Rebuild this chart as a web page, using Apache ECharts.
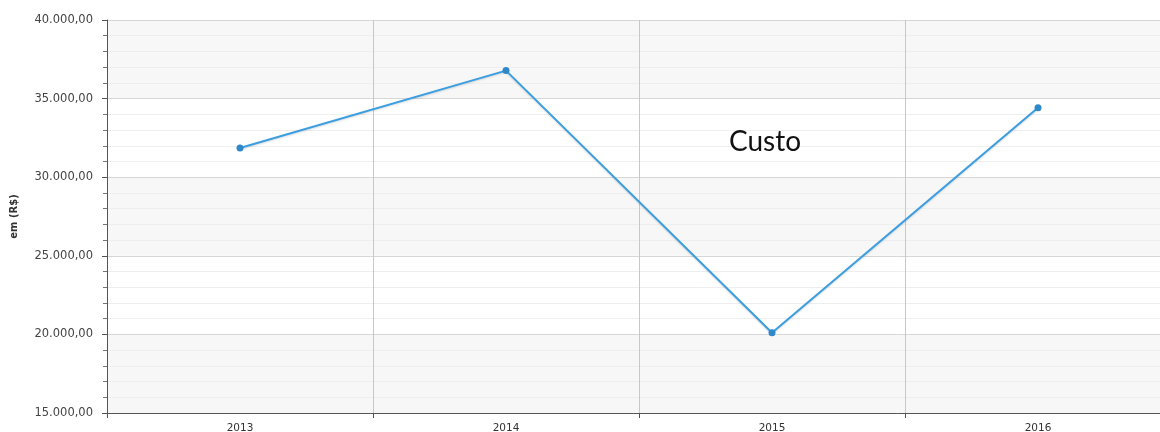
<!DOCTYPE html>
<html><head><meta charset="utf-8">
<script src="https://cdn.jsdelivr.net/npm/echarts@6/dist/echarts.min.js"></script>
<style>html,body{margin:0;padding:0;background:#fff}#c{width:1160px;height:432px}</style>
</head><body><div id="c"></div>
<script>
const categories = ['2013', '2014', '2015', '2016'];
const custo = [31860, 36780, 20100, 34420];
const chartTitle = 'Custo';
const yAxisName = 'em (R$)';

const fmt = v => {
  const s = Math.round(v).toString().replace(/\B(?=(\d{3})+(?!\d))/g, '.');
  return s + ',00';
};

const chart = echarts.init(document.getElementById('c'), null, {renderer: 'canvas'});
chart.setOption({
  animation: false,
  backgroundColor: '#fff',
  title: {
    text: chartTitle, left: 724, top: 123,
    textStyle: {fontFamily: 'Lato, "Open Sans", sans-serif', fontWeight: 'normal', fontSize: 28, color: '#111'}
  },
  grid: {left: 107, right: -11, top: 20, bottom: 19, containLabel: false, outerBoundsMode: 'none'},
  xAxis: {
    type: 'category', data: categories, boundaryGap: true,
    axisLine: {lineStyle: {color: '#555', width: 1}},
    axisTick: {show: true, alignWithLabel: false, length: 5, lineStyle: {color: '#555'}},
    axisLabel: {fontFamily: '"DejaVu Sans", Verdana, sans-serif', fontSize: 10.5, color: '#333', margin: 10},
    splitLine: {show: true, lineStyle: {color: '#c8c8c8', width: 1}}
  },
  yAxis: {
    type: 'value', min: 15000, max: 40000, interval: 5000,
    name: yAxisName, nameLocation: 'middle', nameGap: 88, nameRotate: 90,
    nameTextStyle: {fontFamily: '"DejaVu Sans", Verdana, sans-serif', fontSize: 10, fontWeight: 'bold', color: '#333'},
    axisLine: {show: true, lineStyle: {color: '#555', width: 1}},
    axisTick: {show: true, length: 5, lineStyle: {color: '#555'}},
    minorTick: {show: true, splitNumber: 5, length: 4, lineStyle: {color: '#777'}},
    axisLabel: {formatter: fmt, fontFamily: '"DejaVu Sans", Verdana, sans-serif', fontSize: 11.5, color: '#444', margin: 14},
    splitLine: {show: true, lineStyle: {color: '#d6d6d6', width: 1}},
    minorSplitLine: {show: true, lineStyle: {color: '#eeeeee', width: 1}},
    splitArea: {show: true, areaStyle: {color: ['#f7f7f7', '#ffffff']}}
  },
  series: [{
    type: 'line', data: custo,
    symbol: 'circle', symbolSize: 7,
    itemStyle: {color: '#2f88c8'},
    lineStyle: {color: '#3a9ee0', width: 2, shadowColor: 'rgba(0,0,0,0.15)', shadowBlur: 2, shadowOffsetY: 1}
  }]
});
</script></body></html>
